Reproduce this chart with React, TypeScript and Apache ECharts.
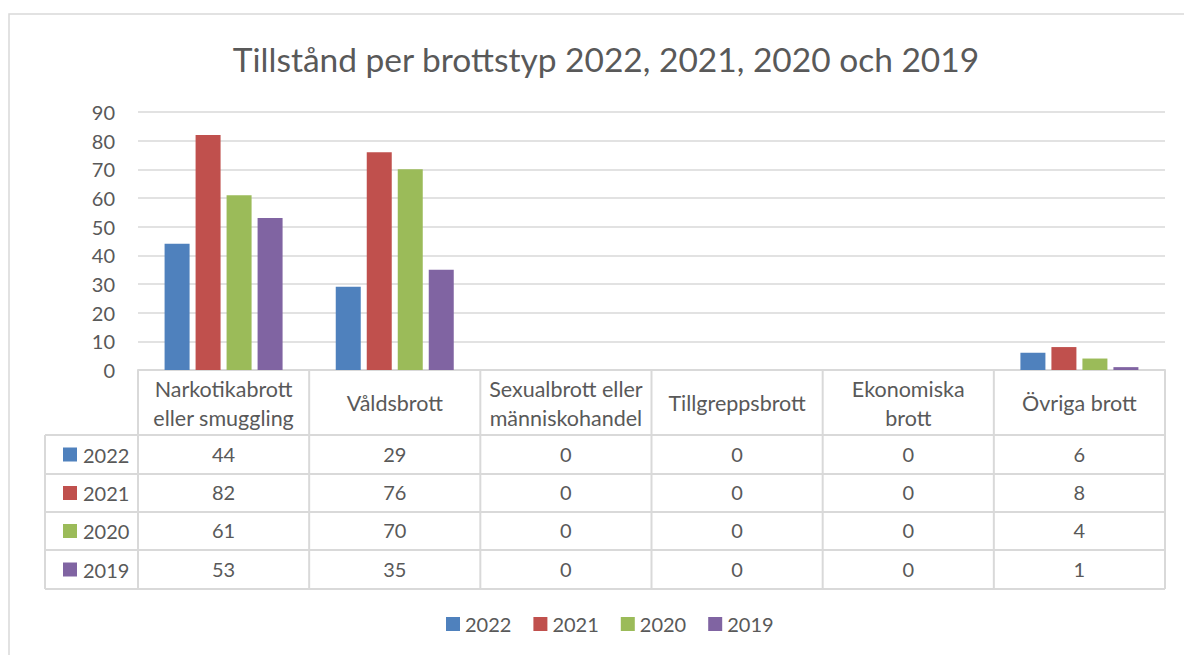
import React, { useEffect, useRef } from "react";
import * as echarts from "echarts";

const categories = [
  "Narkotikabrott\neller smuggling",
  "Våldsbrott",
  "Sexualbrott eller\nmänniskohandel",
  "Tillgreppsbrott",
  "Ekonomiska\nbrott",
  "Övriga brott",
];
const years = ["2022", "2021", "2020", "2019"];
const values2022 = [44, 29, 0, 0, 0, 6];
const values2021 = [82, 76, 0, 0, 0, 8];
const values2020 = [61, 70, 0, 0, 0, 4];
const values2019 = [53, 35, 0, 0, 0, 1];
const seriesValues = [values2022, values2021, values2020, values2019];
const colors = ["#4f81bd", "#c0504d", "#9bbb59", "#8064a2"];

const FONT = "Lato";
const TEXT = "#595959";
const LINE = "#d9d9d9";
const NUM_SIZE = 20;
const CAT_SIZE = 21.5;

export default function App() {
  const ref = useRef<HTMLDivElement>(null);
  useEffect(() => {
    if (!ref.current) return;
    const chart = echarts.init(ref.current, undefined, { renderer: "svg" });

    const gridL = 138;
    const gridR = 1165;
    const axisY = 370;
    const tableLeft = 45;
    const rowEdges = [435, 474, 512, 550, 589];
    const rowCenters = rowEdges.slice(0, 4).map((y, i) => (y + rowEdges[i + 1]) / 2);
    const catW = (gridR - gridL) / categories.length;

    const graphics: any[] = [];
    graphics.push({
      type: "rect",
      shape: { x: 9, y: 14, width: 1400, height: 900 },
      style: { fill: "none", stroke: LINE, lineWidth: 1.5 },
      silent: true,
    });
    rowEdges.forEach((y) => {
      graphics.push({
        type: "line",
        shape: { x1: tableLeft, y1: y, x2: gridR, y2: y },
        style: { stroke: LINE, lineWidth: 2 },
      });
    });
    graphics.push({
      type: "line",
      shape: { x1: tableLeft, y1: rowEdges[0], x2: tableLeft, y2: rowEdges[4] },
      style: { stroke: LINE, lineWidth: 2 },
    });
    for (let i = 0; i <= categories.length; i++) {
      const x = gridL + i * catW;
      graphics.push({
        type: "line",
        shape: { x1: x, y1: axisY, x2: x, y2: rowEdges[4] },
        style: { stroke: LINE, lineWidth: 2 },
      });
    }
    years.forEach((yr, i) => {
      graphics.push({
        type: "rect",
        shape: { x: 63, y: rowCenters[i] - 7, width: 14, height: 14 },
        style: { fill: colors[i] },
      });
      graphics.push({
        type: "text",
        x: 83,
        y: rowCenters[i],
        style: {
          text: yr,
          fill: TEXT,
          font: `${NUM_SIZE}px ${FONT}`,
          verticalAlign: "middle",
          align: "left",
        },
      });
    });

    const rowAxes = seriesValues.map((vals, i) => ({
      type: "category",
      gridIndex: 0,
      position: "bottom",
      offset: rowCenters[i] - axisY - 1,
      data: vals.map(String),
      axisLine: { show: false },
      axisTick: { show: false },
      splitLine: { show: false },
      axisLabel: {
        margin: 0,
        verticalAlign: "middle",
        fontSize: NUM_SIZE,
        fontFamily: FONT,
        color: TEXT,
      },
    }));

    chart.setOption({
      animation: false,
      title: {
        text: "Tillstånd per brottstyp 2022, 2021, 2020 och 2019",
        left: 601,
        textAlign: "center",
        top: 37,
        textStyle: { fontSize: 33.5, fontWeight: "normal", color: TEXT, fontFamily: FONT },
      },
      legend: {
        data: years,
        top: 609,
        left: 441,
        itemWidth: 14,
        itemHeight: 14,
        itemGap: 22,
        itemStyle: { borderWidth: 0 },
        icon: "rect",
        textStyle: { fontSize: NUM_SIZE, color: TEXT, fontFamily: FONT },
      },
      grid: { left: gridL, right: 1184 - gridR, top: 112, bottom: 655 - axisY },
      xAxis: [
        {
          type: "category",
          data: categories,
          axisLine: { show: true, lineStyle: { color: LINE, width: 2 } },
          axisTick: { show: false },
          axisLabel: {
            margin: 33,
            verticalAlign: "middle",
            fontSize: CAT_SIZE,
            lineHeight: 29,
            fontFamily: FONT,
            color: TEXT,
            interval: 0,
          },
        },
        ...rowAxes,
      ],
      yAxis: {
        type: "value",
        min: 0,
        max: 90,
        interval: 10,
        axisLine: { show: false },
        axisTick: { show: false },
        axisLabel: { margin: 23, fontSize: NUM_SIZE, fontFamily: FONT, color: TEXT },
        splitLine: { lineStyle: { color: LINE, width: 1.5 } },
      },
      series: years.map((yr, i) => ({
        name: yr,
        type: "bar",
        xAxisIndex: 0,
        data: seriesValues[i],
        barWidth: 25,
        barGap: "24%",
        itemStyle: { color: colors[i] },
      })),
      graphic: graphics,
    });
    return () => chart.dispose();
  }, []);
  return (
    <div
      ref={ref}
      style={{ position: "fixed", left: 0, top: 0, width: 1184, height: 655, background: "#fff" }}
    />
  );
}
